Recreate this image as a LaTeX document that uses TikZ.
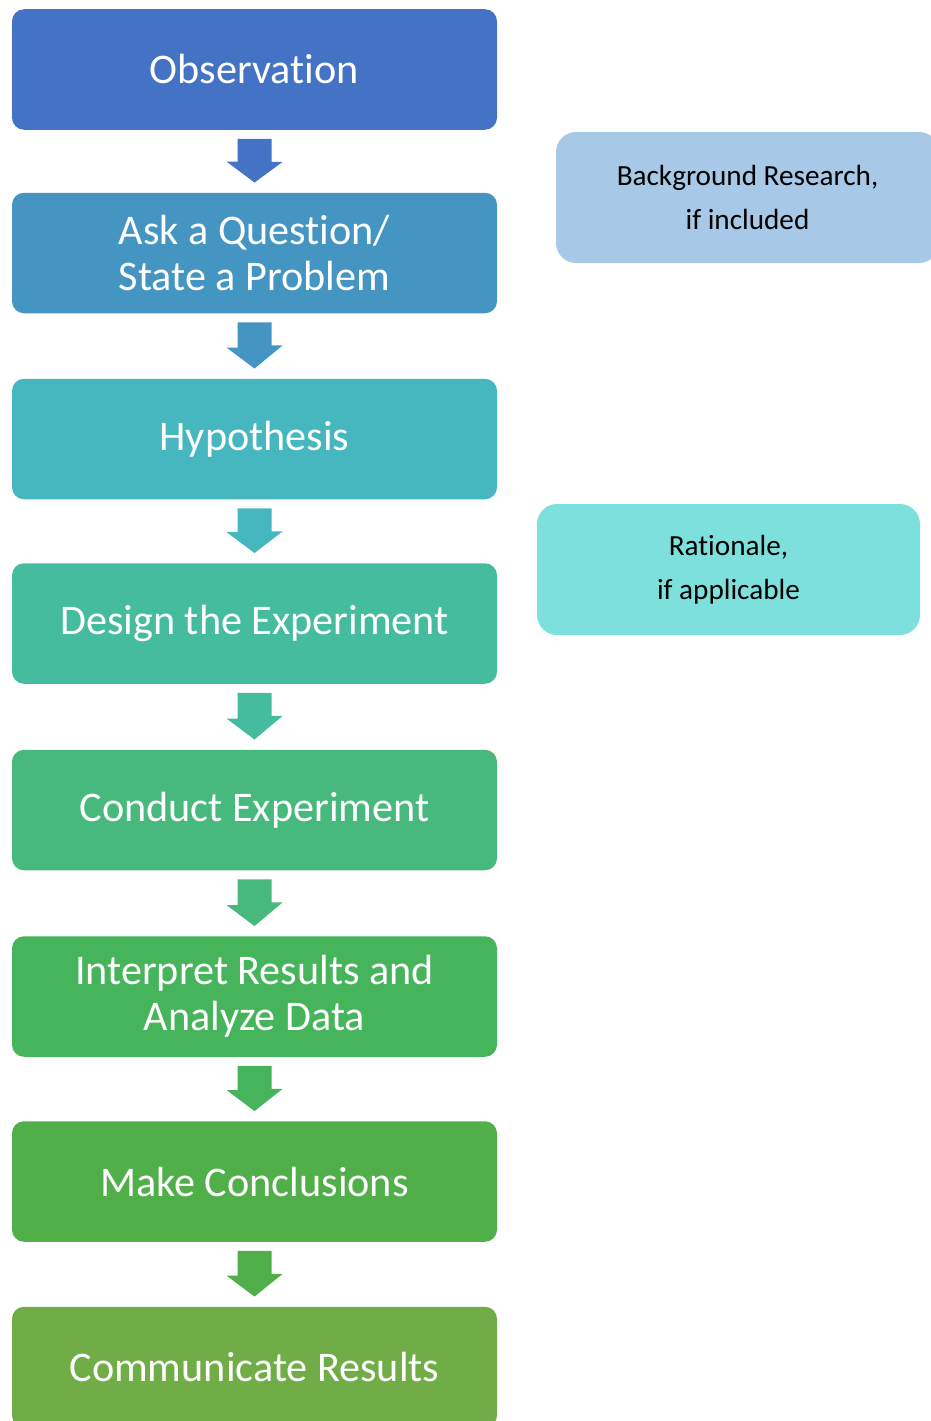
\documentclass[tikz,border=0pt]{standalone}
\usepackage{fontspec}
\setmainfont{Carlito}[Ligatures=NoCommon]
\usepackage{xcolor}
\usetikzlibrary{calc}

\definecolor{obsBlue}{HTML}{4472C4}
\definecolor{askBlue}{HTML}{4495C2}
\definecolor{hypTeal}{HTML}{46B7BF}
\definecolor{designTeal}{HTML}{46BC9F}
\definecolor{conductGreen}{HTML}{48B97C}
\definecolor{interpGreen}{HTML}{46B45A}
\definecolor{conclGreen}{HTML}{50AF48}
\definecolor{commGreen}{HTML}{70AD47}
\definecolor{bgresBlue}{HTML}{A7C9E7}
\definecolor{ratlCyan}{HTML}{7EE0DD}

\begin{document}
\begin{tikzpicture}[x=1pt, y=-1pt,
    stepbox/.style={rounded corners=12pt, minimum width=485pt, minimum height=120.5pt,
        inner sep=0pt, text=white, align=center, font=\fontsize{42.2}{46}\selectfont},
    sidebox/.style={rounded corners=20pt, minimum width=383pt, minimum height=131pt,
        inner sep=0pt, text=black, align=center, font=\fontsize{29.2}{44}\selectfont}
]
    \useasboundingbox (0,0) rectangle (931,1421);
    \clip (0,0) rectangle (931,1421);

    % Steps of the method
    \node[stepbox, fill=obsBlue]      (obs)     at (254.5,69.5)  {Observation};
    \node[stepbox, fill=askBlue]      (ask)     at (254.5,253)   {Ask a Question/\\State a Problem};
    \node[stepbox, fill=hypTeal]      (hyp)     at (254.5,439)   {Hypothesis};
    \node[stepbox, fill=designTeal]   (design)  at (254.5,623.5) {Design the Experiment};
    \node[stepbox, fill=conductGreen] (conduct) at (254.5,810)   {Conduct Experiment};
    \node[stepbox, fill=interpGreen]  (interp)  at (254.5,996.5) {Interpret Results and\\Analyze Data};
    \node[stepbox, fill=conclGreen]   (concl)   at (254.5,1181.5){Make Conclusions};
    \node[stepbox, fill=commGreen]    (comm)    at (254.5,1367)  {Communicate Results};

    % Block arrows between steps
    \foreach \a/\b/\c in {obs/ask/obsBlue, ask/hyp/askBlue, hyp/design/hypTeal,
        design/conduct/designTeal, conduct/interp/conductGreen,
        interp/concl/interpGreen, concl/comm/conclGreen}
        \fill[\c] ($(\a.south)+(-17,9)$) -- ++(34,0) -- ++(0,23) -- ++(11,0)
            -- ($(\b.north)+(0,-10)$) -- ++(-28,-21) -- ++(11,0) -- cycle;

    % Side notes
    \node[sidebox, fill=bgresBlue] (bgres) at (747.5,197.5) {Background Research,\\if included};
    \node[sidebox, fill=ratlCyan]  (ratl)  at (728.5,569.5) {Rationale,\\if applicable};
\end{tikzpicture}
\end{document}
